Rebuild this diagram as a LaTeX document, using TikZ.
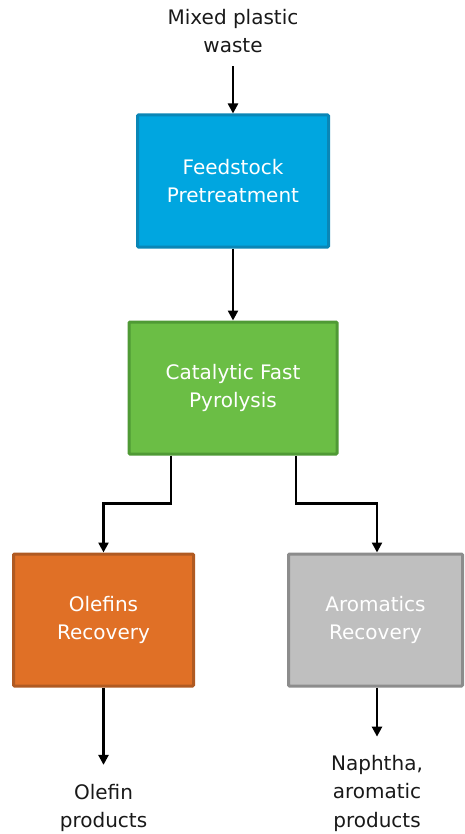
\documentclass[tikz,border=0pt]{standalone}
\usepackage{fontspec}
\setmainfont{DejaVu Sans}
\usetikzlibrary{arrows.meta}
\definecolor{preFill}{HTML}{00A6E0}
\definecolor{preLine}{HTML}{0A86B6}
\definecolor{cfpFill}{HTML}{6BBE45}
\definecolor{cfpLine}{HTML}{4F9A35}
\definecolor{olFill}{HTML}{E07026}
\definecolor{olLine}{HTML}{B05A22}
\definecolor{arFill}{HTML}{BFBFBF}
\definecolor{arLine}{HTML}{8C8C8C}
\begin{document}
\begin{tikzpicture}[x=1pt, y=-1pt, font=\fontsize{20}{28.5}\selectfont,
		box/.style={draw, line width=3pt, rounded corners=1pt, text=white, align=center, minimum height=132pt},
		txt/.style={align=center, text=black!90, inner sep=0pt},
		flow/.style={line width=2.4pt, -{Triangle[width=10pt,length=10pt]}}]
		\useasboundingbox (0,0) rectangle (464,834);

		\node[txt] (W) at (233, 31) {Mixed plastic\\waste};
		\node[box, fill=preFill, draw=preLine, minimum width=191pt] (P) at (233, 181) {Feedstock\\Pretreatment};
		\node[box, fill=cfpFill, draw=cfpLine, minimum width=208pt] (cfp) at (233, 388) {Catalytic Fast\\Pyrolysis};
		\node[box, fill=olFill, draw=olLine, minimum width=180pt] (ol) at (103.5, 620) {Olefins\\Recovery};
		\node[box, fill=arFill, draw=arLine, minimum width=174pt] (ar) at (375.5, 620) {Aromatics\\Recovery};
		\node[txt] (op) at (103.5, 808) {Olefin\\products};
		\node[txt] (ap) at (377, 793) {Naphtha,\\aromatic\\products};

		\path (W) edge[flow, shorten <=13pt] (P)
		(P) edge[flow] (cfp)
		(ol) edge[flow, shorten >=19pt] (op)
		([xshift=1.5pt]ar.south) edge[flow, shorten >=18pt] (ap.north);

		\draw[flow] ([xshift=-62pt]cfp.south) -- ++(0,48) -| (ol.north);
		\draw[flow] ([xshift=63pt]cfp.south) -- ++(0,48) -| ([xshift=1.5pt]ar.north);
	\end{tikzpicture}
\end{document}
